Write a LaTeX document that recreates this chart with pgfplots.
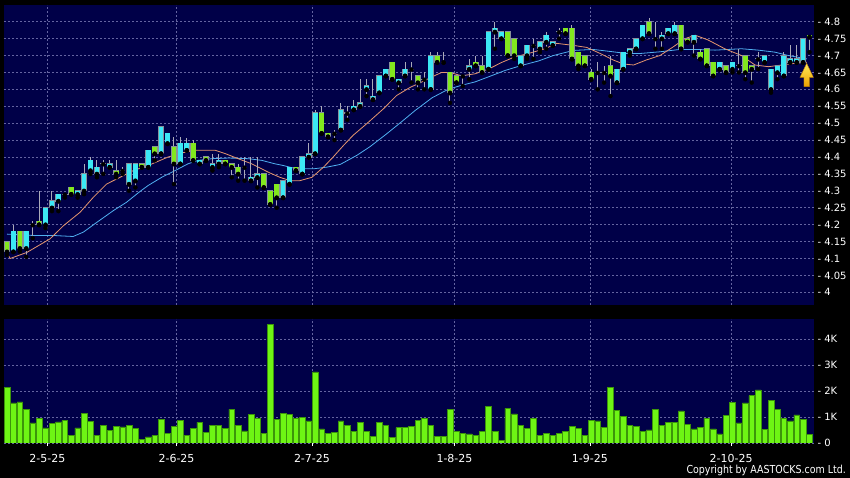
\documentclass[border=0pt]{standalone}
\usepackage{fontspec}
\setmainfont{DejaVu Sans}
\newfontfamily\condensed{DejaVu Sans}[FakeStretch=0.86]
\usepackage{pgfplots}
\usepackage{pgfplotstable}
\pgfplotsset{compat=1.18}
\definecolor{navy}{RGB}{0,0,72}
\definecolor{gridc}{RGB}{100,100,160}
\definecolor{upc}{RGB}{60,232,245}
\definecolor{dnc}{RGB}{130,232,30}
\definecolor{wickc}{RGB}{170,170,185}
\definecolor{bordc}{RGB}{135,145,155}
\definecolor{volc}{RGB}{110,245,20}
\definecolor{volb}{RGB}{60,150,10}
\definecolor{maor}{RGB}{230,150,110}
\definecolor{mabl}{RGB}{80,175,240}
\definecolor{arrtop}{RGB}{255,235,90}
\definecolor{arrbot}{RGB}{235,160,0}
\definecolor{arredge}{RGB}{190,130,0}

\pgfplotstableread{
i o h l c v
0 4.15 4.15 4.11 4.12 2.13
1 4.12 4.20 4.12 4.18 1.54
2 4.18 4.18 4.12 4.13 1.58
3 4.13 4.18 4.105 4.18 1.28
4 4.20 4.21 4.16 4.20 0.77
5 4.21 4.30 4.20 4.20 0.94
6 4.20 4.25 4.19 4.25 0.58
7 4.25 4.30 4.24 4.27 0.74
8 4.27 4.29 4.24 4.29 0.81
9 4.29 4.29 4.28 4.29 0.86
10 4.31 4.31 4.29 4.29 0.29
11 4.29 4.30 4.28 4.30 0.58
12 4.30 4.38 4.29 4.35 1.14
13 4.36 4.40 4.35 4.39 0.83
14 4.35 4.39 4.34 4.37 0.28
15 4.38 4.39 4.35 4.38 0.69
16 4.37 4.39 4.37 4.38 0.49
17 4.36 4.39 4.34 4.35 0.65
18 4.36 4.37 4.35 4.36 0.62
19 4.32 4.38 4.30 4.38 0.68
20 4.33 4.38 4.31 4.38 0.56
21 4.38 4.38 4.37 4.37 0.15
22 4.37 4.42 4.37 4.42 0.24
23 4.43 4.43 4.39 4.41 0.28
24 4.41 4.49 4.41 4.49 0.90
25 4.44 4.47 4.44 4.47 0.36
26 4.43 4.46 4.32 4.38 0.63
27 4.38 4.46 4.38 4.44 0.88
28 4.42 4.455 4.42 4.44 0.28
29 4.44 4.45 4.39 4.39 0.56
30 4.38 4.39 4.38 4.39 0.79
31 4.40 4.40 4.39 4.39 0.41
32 4.37 4.41 4.36 4.38 0.67
33 4.38 4.41 4.37 4.39 0.67
34 4.39 4.39 4.38 4.38 0.56
35 4.38 4.38 4.34 4.37 1.29
36 4.37 4.38 4.33 4.35 0.67
37 4.37 4.40 4.33 4.37 0.47
38 4.33 4.40 4.33 4.34 1.09
39 4.34 4.40 4.31 4.35 0.95
40 4.35 4.35 4.31 4.31 0.37
41 4.30 4.30 4.26 4.26 4.55
42 4.32 4.32 4.25 4.28 0.91
43 4.28 4.33 4.28 4.33 1.15
44 4.32 4.37 4.32 4.37 1.10
45 4.37 4.37 4.36 4.36 0.95
46 4.35 4.40 4.35 4.40 0.99
47 4.40 4.44 4.40 4.41 0.85
48 4.41 4.54 4.41 4.53 2.73
49 4.53 4.55 4.47 4.47 0.54
50 4.47 4.47 4.46 4.46 0.37
51 4.47 4.48 4.45 4.47 0.40
52 4.48 4.56 4.48 4.54 0.85
53 4.53 4.55 4.51 4.53 0.69
54 4.54 4.57 4.54 4.55 0.45
55 4.55 4.63 4.55 4.56 0.79
56 4.60 4.63 4.58 4.61 0.46
57 4.57 4.63 4.57 4.58 0.26
58 4.59 4.64 4.59 4.64 0.78
59 4.64 4.66 4.64 4.66 0.67
60 4.68 4.68 4.63 4.63 0.22
61 4.62 4.63 4.60 4.63 0.59
62 4.64 4.68 4.64 4.66 0.60
63 4.66 4.68 4.62 4.66 0.65
64 4.64 4.64 4.60 4.62 0.86
65 4.63 4.65 4.60 4.63 0.95
66 4.60 4.71 4.60 4.70 0.67
67 4.70 4.71 4.68 4.68 0.26
68 4.68 4.71 4.68 4.68 0.26
69 4.65 4.65 4.56 4.59 1.28
70 4.64 4.64 4.62 4.62 0.45
71 4.64 4.64 4.61 4.64 0.37
72 4.66 4.69 4.63 4.67 0.35
73 4.68 4.70 4.67 4.67 0.28
74 4.67 4.70 4.65 4.65 0.44
75 4.66 4.77 4.66 4.77 1.40
76 4.77 4.80 4.72 4.78 0.46
77 4.75 4.77 4.75 4.77 0.09
78 4.77 4.77 4.70 4.70 1.33
79 4.75 4.75 4.69 4.70 1.12
80 4.67 4.70 4.67 4.70 0.69
81 4.70 4.73 4.69 4.73 0.55
82 4.73 4.75 4.69 4.73 0.95
83 4.72 4.74 4.71 4.74 0.28
84 4.74 4.77 4.72 4.76 0.38
85 4.73 4.74 4.73 4.74 0.29
86 4.77 4.78 4.75 4.77 0.37
87 4.78 4.78 4.765 4.765 0.45
88 4.78 4.79 4.69 4.69 0.63
89 4.71 4.71 4.66 4.67 0.55
90 4.70 4.70 4.67 4.67 0.28
91 4.65 4.66 4.63 4.63 0.86
92 4.65 4.68 4.60 4.65 0.85
93 4.65 4.67 4.62 4.65 0.60
94 4.67 4.70 4.58 4.64 2.15
95 4.62 4.66 4.62 4.66 1.24
96 4.66 4.71 4.66 4.71 1.03
97 4.71 4.72 4.70 4.72 0.68
98 4.72 4.75 4.72 4.75 0.64
99 4.75 4.79 4.75 4.79 0.46
100 4.80 4.81 4.765 4.765 0.50
101 4.75 4.80 4.72 4.75 1.28
102 4.75 4.77 4.72 4.76 0.68
103 4.765 4.78 4.765 4.78 0.78
104 4.765 4.80 4.765 4.79 0.78
105 4.79 4.79 4.72 4.72 1.23
106 4.75 4.75 4.74 4.74 0.71
107 4.74 4.76 4.70 4.76 0.54
108 4.71 4.72 4.69 4.69 0.59
109 4.72 4.72 4.67 4.67 0.96
110 4.68 4.68 4.64 4.64 0.54
111 4.66 4.68 4.66 4.68 0.35
112 4.67 4.67 4.65 4.65 1.06
113 4.66 4.68 4.65 4.68 1.56
114 4.67 4.72 4.65 4.67 0.77
115 4.70 4.70 4.63 4.65 1.54
116 4.67 4.67 4.62 4.66 1.82
117 4.69 4.71 4.66 4.69 2.04
118 4.68 4.70 4.68 4.70 0.51
119 4.60 4.66 4.59 4.66 1.64
120 4.65 4.67 4.63 4.67 1.28
121 4.64 4.71 4.64 4.70 0.94
122 4.68 4.73 4.68 4.69 0.85
123 4.68 4.73 4.68 4.69 1.08
124 4.68 4.75 4.68 4.75 0.90
125 4.76 4.76 4.71 4.755 0.33
}\candles

\pgfplotstableread{
x y
0 4.115
0.5 4.10
3.1 4.118
6.7 4.158
8.8 4.197
11.4 4.237
13.4 4.28
15.5 4.32
17.6 4.34
19.7 4.36
22.0 4.375
25.1 4.40
27.2 4.412
29.3 4.42
32.4 4.42
34.0 4.41
36.0 4.395
38.1 4.38
40.7 4.355
42.5 4.34
44.1 4.33
45.6 4.33
47.5 4.34
49.3 4.37
50.8 4.40
52.4 4.434
53.9 4.464
56.0 4.498
58.6 4.542
60.7 4.582
62.8 4.606
64.1 4.617
66.2 4.637
67.7 4.65
69.0 4.65
70.8 4.64
72.9 4.646
75.0 4.66
77.1 4.68
79.1 4.696
81.2 4.706
83.8 4.72
85.6 4.736
88.2 4.73
90.3 4.724
92.4 4.706
94.4 4.687
96.0 4.675
97.6 4.672
99.6 4.687
101.7 4.70
103.8 4.726
105.6 4.75
107.2 4.76
109.2 4.746
111.8 4.72
114.4 4.70
116.5 4.672
118.6 4.667
120.7 4.672
122.7 4.677
124.6 4.68
}\maten

\pgfplotstableread{
x y
0 4.172
4.1 4.168
7.2 4.168
10.3 4.165
11.9 4.178
14.0 4.207
16.6 4.242
18.6 4.266
20.7 4.298
22.0 4.316
24.1 4.34
26.2 4.36
28.2 4.38
29.8 4.39
31.9 4.395
34.5 4.397
37.6 4.395
39.7 4.39
41.7 4.38
43.0 4.375
45.1 4.365
47.7 4.365
49.8 4.37
51.9 4.378
54.5 4.405
56.5 4.43
59.1 4.468
61.7 4.508
63.6 4.538
66.2 4.575
68.7 4.60
70.8 4.612
72.9 4.622
75.0 4.637
77.6 4.656
80.2 4.671
82.8 4.684
85.1 4.70
88.2 4.715
91.3 4.718
94.4 4.711
96.5 4.706
98.6 4.706
101.7 4.711
104.8 4.718
107.2 4.718
110.3 4.716
114.4 4.72
117.0 4.716
119.6 4.71
121.7 4.70
124.6 4.69
}\matwenty

\begin{document}
\begin{tikzpicture}
\fill[black] (0,0) rectangle (850pt,478pt);

% ---------------- price panel ----------------
\begin{axis}[
  at={(4pt,173pt)}, anchor=south west,
  width=810pt, height=300pt, scale only axis,
  xmin=-0.47, xmax=125.7, ymin=3.9625, ymax=4.8494,
  axis background/.style={fill=navy},
  axis line style={draw=none},
  xtick={6.3,26.4,47.5,69.7,90.8,112.8}, xticklabels={},
  ytick={4,4.05,4.1,4.15,4.2,4.25,4.3,4.35,4.4,4.45,4.5,4.55,4.6,4.65,4.7,4.75,4.8},
  yticklabel pos=right,
  /pgf/number format/assume math mode=true,
  yticklabel={-\ \pgfmathprintnumber{\tick}},
  yticklabel style={font=\fontsize{10}{12}\selectfont, text=white},
  major tick length=0pt,
  tick style={draw=none},
  grid=major,
  major grid style={draw=gridc, dash pattern=on 2pt off 2pt, line width=0.5pt},
]
\addplot[mabl, line width=0.8pt] table[x=x,y=y] {\matwenty};
\addplot[maor, line width=0.8pt] table[x=x,y=y] {\maten};
% wicks
\addplot[only marks, mark=none,
  error bars/.cd, y dir=plus, y explicit, error mark=none,
  error bar style={line width=1pt, draw=wickc}]
  table[x=i, y=l, y error plus expr={\thisrow{h}-\thisrow{l}}] {\candles};
% body borders
\addplot[only marks, mark=none,
  error bars/.cd, y dir=plus, y explicit, error mark=none,
  error bar style={line width=5.8pt, draw=bordc}]
  table[x=i, y expr={min(\thisrow{o},\thisrow{c})-0.0016},
        y error plus expr={abs(\thisrow{c}-\thisrow{o})+0.0032}] {\candles};
% up bodies (close above open)
\addplot[only marks, mark=none,
  restrict expr to domain={\thisrow{c}-\thisrow{o}}{0.0001:10},
  error bars/.cd, y dir=plus, y explicit, error mark=none,
  error bar style={line width=4.7pt, draw=upc}]
  table[x=i, y=o, y error plus expr={\thisrow{c}-\thisrow{o}}] {\candles};
% down bodies (close below open)
\addplot[only marks, mark=none,
  restrict expr to domain={\thisrow{o}-\thisrow{c}}{0.0001:10},
  error bars/.cd, y dir=plus, y explicit, error mark=none,
  error bar style={line width=4.7pt, draw=dnc}]
  table[x=i, y=c, y error plus expr={\thisrow{o}-\thisrow{c}}] {\candles};
% arrow marker
\shadedraw[top color=arrtop, bottom color=arrbot, draw=arredge, line width=0.4pt]
  (axis cs:124.56,4.677) -- (axis cs:125.6,4.6356) -- (axis cs:124.98,4.6356)
  -- (axis cs:124.98,4.608) -- (axis cs:124.14,4.608) -- (axis cs:124.14,4.6356)
  -- (axis cs:123.52,4.6356) -- cycle;
\end{axis}

% ---------------- volume panel ----------------
\begin{axis}[
  at={(4pt,35pt)}, anchor=south west,
  width=810pt, height=124pt, scale only axis,
  xmin=-0.47, xmax=125.7, ymin=0, ymax=4.766,
  axis background/.style={fill=navy},
  axis line style={draw=none},
  xtick={6.3,26.4,47.5,69.7,90.8,112.8},
  xticklabels={2-5-25,2-6-25,2-7-25,1-8-25,1-9-25,2-10-25},
  xtick pos=lower,
  xtick style={draw=white, line width=0.6pt},
  major tick length=3pt, tick align=outside,
  xticklabel style={font=\fontsize{11}{13}\selectfont, text=white, yshift=-4.5pt},
  ytick={0,1,2,3,4},
  yticklabels={-\ 0,-\ 1K,-\ 2K,-\ 3K,-\ 4K},
  yticklabel pos=right,
  ytick style={draw=none},
  yticklabel style={font=\fontsize{10}{12}\selectfont, text=white, xshift=-3pt},
  grid=major,
  major grid style={draw=gridc, dash pattern=on 2pt off 2pt, line width=0.5pt},
]
\addplot[ybar, bar width=0.88, bar shift=0pt, fill=volc, draw=volb, line width=0.5pt]
  table[x=i, y=v] {\candles};
\end{axis}

\node[anchor=base east, text=white, inner sep=0pt,
      font=\condensed\fontsize{11}{13}\selectfont] at (846pt,4.5pt)
      {Copyright by AASTOCKS.com Ltd.};
\end{tikzpicture}
\end{document}
